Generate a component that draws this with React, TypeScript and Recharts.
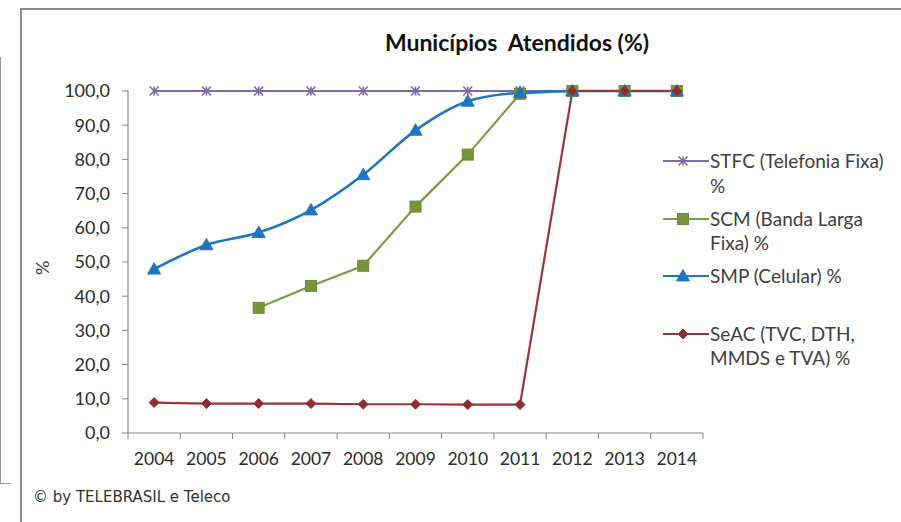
import React from 'react';
import { LineChart, Line, XAxis, YAxis, Legend } from 'recharts';

// Anos (categorias)
const years = [2004, 2005, 2006, 2007, 2008, 2009, 2010, 2011, 2012, 2013, 2014];

// Séries: percentual de municípios atendidos
const stfc = [100, 100, 100, 100, 100, 100, 100, 100, 100, 100, 100];
const scm = [null, null, 36.6, 43.0, 48.9, 66.2, 81.4, 99.2, 100, 100, 100];
const smp = [47.9, 55.0, 58.6, 65.2, 75.5, 88.5, 97.0, 99.5, 100, 100, 100];
const seac = [8.9, 8.6, 8.6, 8.6, 8.4, 8.4, 8.3, 8.3, 100, 100, 100];

const yTicks = [0, 10, 20, 30, 40, 50, 60, 70, 80, 90, 100];

type Kind = 'stfc' | 'scm' | 'smp' | 'seac';

const seriesOrder: Kind[] = ['stfc', 'scm', 'smp', 'seac'];

const seriesNames: Record<Kind, string> = {
  stfc: 'STFC (Telefonia Fixa) %',
  scm: 'SCM (Banda Larga Fixa) %',
  smp: 'SMP (Celular) %',
  seac: 'SeAC (TVC, DTH, MMDS e TVA) %',
};

const colors: Record<Kind, string> = {
  stfc: '#7D6AAE',
  scm: '#7C9C3E',
  smp: '#1F76C0',
  seac: '#953638',
};

const data = years.map((year, i) => ({
  year,
  stfc: stfc[i],
  scm: scm[i],
  smp: smp[i],
  seac: seac[i],
}));

// category boundaries for the x-axis tick marks
const boundaries = [...years.map((y) => y - 0.5), years[years.length - 1] + 0.5];
const xDomain = [boundaries[0], boundaries[boundaries.length - 1]];

const FONT = 'Lato, "Open Sans", sans-serif';

function Marker({ kind, cx, cy }: { kind: Kind; cx: number; cy: number }) {
  const c = colors[kind];
  if (kind === 'stfc') {
    const s = 4.5;
    return (
      <g stroke={c} strokeWidth={1.6}>
        <line x1={cx - s} y1={cy - s} x2={cx + s} y2={cy + s} />
        <line x1={cx - s} y1={cy + s} x2={cx + s} y2={cy - s} />
        <line x1={cx} y1={cy - s} x2={cx} y2={cy + s} />
      </g>
    );
  }
  if (kind === 'scm') {
    const s = 5.5;
    return <rect x={cx - s} y={cy - s} width={2 * s} height={2 * s} fill="#77933C" stroke="#6E8A35" strokeWidth={1} />;
  }
  if (kind === 'smp') {
    const s = 6.5;
    return (
      <polygon
        points={`${cx},${cy - s} ${cx + s},${cy + s * 0.75} ${cx - s},${cy + s * 0.75}`}
        fill={c}
        stroke={c}
        strokeWidth={1}
      />
    );
  }
  const s = 5;
  return (
    <polygon
      points={`${cx},${cy - s} ${cx + s},${cy} ${cx},${cy + s} ${cx - s},${cy}`}
      fill="#8B2E32"
      stroke={c}
      strokeWidth={1}
    />
  );
}

function makeDot(kind: Kind) {
  return (props: any) => {
    const { cx, cy, value, index } = props;
    if (value == null || cx == null || cy == null) return <g key={`${kind}-${index}`} />;
    return (
      <g key={`${kind}-${index}`}>
        <Marker kind={kind} cx={cx} cy={cy} />
      </g>
    );
  };
}

function LegendContent() {
  return (
    <div style={{ fontFamily: FONT, fontSize: 19, color: '#404040' }}>
      {seriesOrder.map((kind) => (
        <div key={kind} style={{ display: 'flex', alignItems: 'flex-start', height: 57.5 }}>
          <svg width={47} height={24} style={{ flex: 'none' }}>
            <line x1={0} y1={12} x2={46} y2={12} stroke={colors[kind]} strokeWidth={2.2} />
            <Marker kind={kind} cx={20} cy={12} />
          </svg>
          <div style={{ width: 185, lineHeight: '24.5px', marginLeft: 0 }}>{seriesNames[kind]}</div>
        </div>
      ))}
    </div>
  );
}

const noLabel = () => <g />;

export default function App() {
  return (
    <div style={{ position: 'absolute', left: 0, top: 0, width: 901, height: 522, background: '#fff', overflow: 'hidden' }}>
      {/* outer frame */}
      <div
        style={{
          position: 'absolute',
          left: 20,
          top: 8,
          width: 890,
          height: 530,
          borderTop: '2px solid #8A8A8A',
          borderLeft: '2px solid #8A8A8A',
        }}
      />
      <div
        style={{
          position: 'absolute',
          left: 0,
          top: 57,
          width: 10,
          height: 426,
          borderLeft: '1px solid #9A9A9A',
          borderBottom: '1px solid #9A9A9A',
        }}
      />
      <div
        style={{
          position: 'absolute',
          left: 0,
          width: 1034,
          top: 28,
          textAlign: 'center',
          fontFamily: FONT,
          fontWeight: 700,
          fontSize: 23,
          color: '#111',
          whiteSpace: 'pre',
        }}
      >
        {'Municípios  Atendidos (%)'}
      </div>
      <div
        style={{
          position: 'absolute',
          left: 31,
          top: 275,
          transformOrigin: '0 0',
          transform: 'rotate(-90deg)',
          fontFamily: FONT,
          fontSize: 18,
          color: '#333',
        }}
      >
        %
      </div>
      <div
        style={{
          position: 'absolute',
          left: 33,
          top: 488,
          fontFamily: '"DejaVu Sans", sans-serif',
          fontSize: 15,
          color: '#333',
        }}
      >
        © by TELEBRASIL e Teleco
      </div>
      <div style={{ position: 'absolute', left: 0, top: 0 }}>
        <LineChart
          width={901}
          height={522}
          data={data}
          margin={{ top: 91, right: 198, bottom: 48, left: 0 }}
        >
          <XAxis
            xAxisId="a-marks"
            dataKey="year"
            type="number"
            domain={xDomain}
            ticks={boundaries}
            interval={0}
            height={1}
            tick={noLabel}
            tickLine={{ stroke: '#868686' }}
            tickSize={6}
            axisLine={{ stroke: '#868686', strokeWidth: 1.2 }}
          />
          <XAxis
            xAxisId="b-labels"
            dataKey="year"
            type="number"
            domain={xDomain}
            ticks={years}
            interval={0}
            height={40}
            axisLine={false}
            tickLine={false}
            tickSize={0}
            tickMargin={19}
            tick={{ fill: '#2b2b2b', fontSize: 17.5, fontFamily: FONT }}
          />
          <YAxis
            width={128}
            domain={[0, 100]}
            ticks={yTicks}
            interval={0}
            tickFormatter={(v: number) => v.toFixed(1).replace('.', ',')}
            tick={{ fill: '#2b2b2b', fontSize: 18, fontFamily: FONT }}
            tickSize={6}
            tickMargin={12}
            axisLine={{ stroke: '#868686', strokeWidth: 1.2 }}
            tickLine={{ stroke: '#868686' }}
          />
          <Legend
            layout="vertical"
            align="center"
            verticalAlign="middle"
            wrapperStyle={{ left: 663, top: 149, width: 235 }}
            content={LegendContent}
          />
          <Line
            xAxisId="a-marks"
            dataKey="stfc"
            name={seriesNames.stfc}
            stroke={colors.stfc}
            strokeWidth={2}
            dot={makeDot('stfc')}
            activeDot={false}
            isAnimationActive={false}
          />
          <Line
            xAxisId="a-marks"
            dataKey="scm"
            name={seriesNames.scm}
            stroke={colors.scm}
            strokeWidth={2.2}
            dot={makeDot('scm')}
            activeDot={false}
            isAnimationActive={false}
          />
          <Line
            xAxisId="b-labels"
            dataKey="smp"
            name={seriesNames.smp}
            stroke={colors.smp}
            strokeWidth={2.6}
            type="monotone"
            dot={makeDot('smp')}
            activeDot={false}
            isAnimationActive={false}
          />
          <Line
            xAxisId="b-labels"
            dataKey="seac"
            name={seriesNames.seac}
            stroke={colors.seac}
            strokeWidth={2.2}
            dot={makeDot('seac')}
            activeDot={false}
            isAnimationActive={false}
          />
        </LineChart>
      </div>
    </div>
  );
}
